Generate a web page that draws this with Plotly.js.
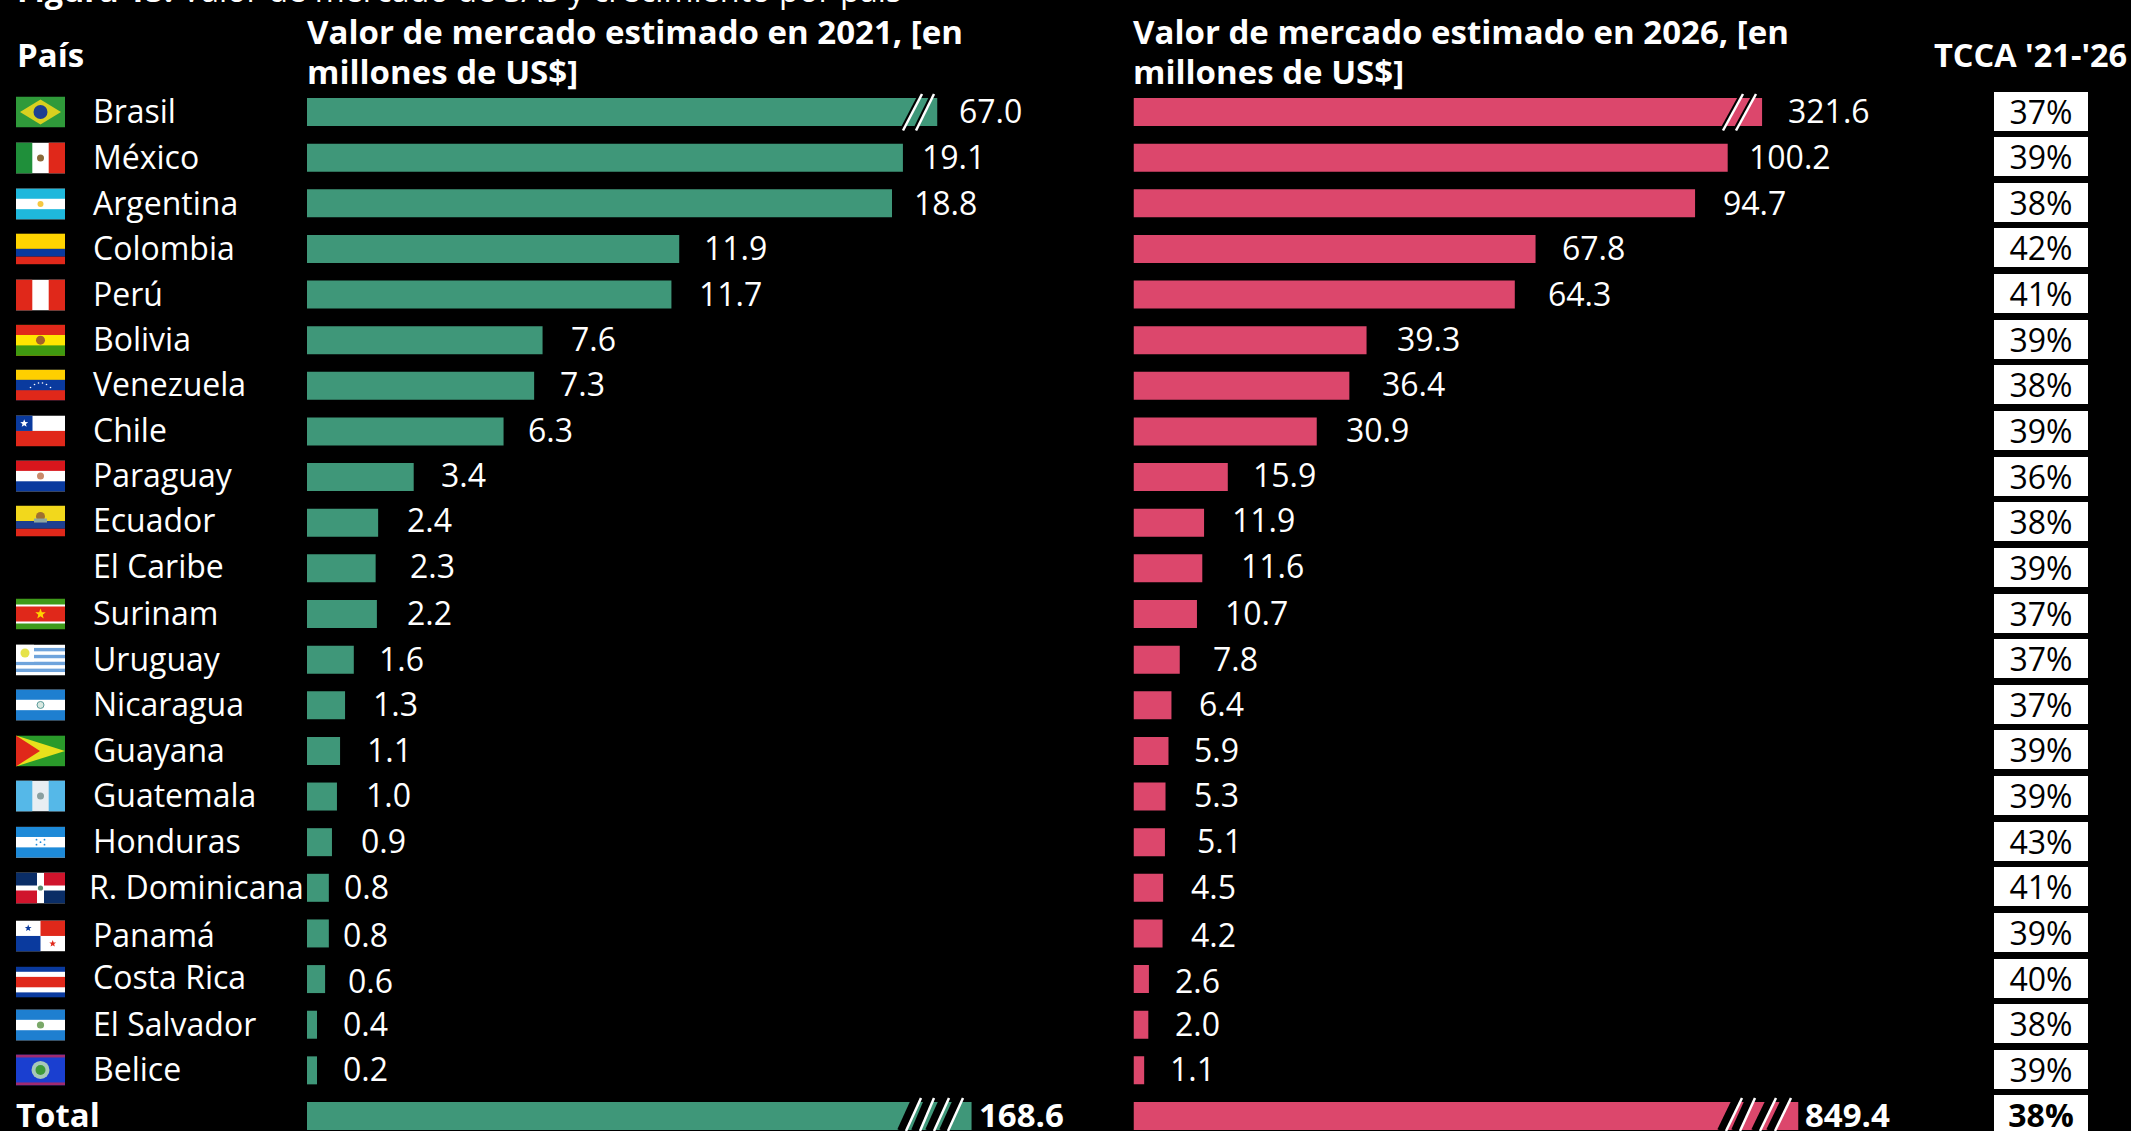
<!DOCTYPE html>
<html><head><meta charset="utf-8">
<script src="https://cdn.plot.ly/plotly-3.0.1.min.js"></script>
<style>html,body{margin:0;padding:0;background:#000;overflow:hidden}</style>
</head><body><div id="chart" style="width:2131px;height:1131px"></div>
<script>
const countries = ["Brasil","México","Argentina","Colombia","Perú","Bolivia","Venezuela","Chile","Paraguay","Ecuador","El Caribe","Surinam","Uruguay","Nicaragua","Guayana","Guatemala","Honduras","R. Dominicana","Panamá","Costa Rica","El Salvador","Belice","Total"];
// printed labels
const labels2021 = ["67.0","19.1","18.8","11.9","11.7","7.6","7.3","6.3","3.4","2.4","2.3","2.2","1.6","1.3","1.1","1.0","0.9","0.8","0.8","0.6","0.4","0.2","168.6"];
const labels2026 = ["321.6","100.2","94.7","67.8","64.3","39.3","36.4","30.9","15.9","11.9","11.6","10.7","7.8","6.4","5.9","5.3","5.1","4.5","4.2","2.6","2.0","1.1","849.4"];
const tcca = ["37%","39%","38%","42%","41%","39%","38%","39%","36%","38%","39%","37%","37%","37%","39%","39%","43%","41%","39%","40%","38%","39%","38%"];
// bar lengths as drawn in the picture (Brasil and Total sit on a broken axis)
const drawn2021 = [20.2,19.1,18.75,11.93,11.68,7.55,7.28,6.3,3.42,2.28,2.2,2.24,1.5,1.22,1.06,0.96,0.8,0.7,0.7,0.58,0.32,0.32,21.3];
const drawn2026 = [106,100.2,94.7,67.8,64.3,39.3,36.4,30.9,15.9,11.9,11.6,10.7,7.8,6.4,5.9,5.4,5.3,5.0,4.9,2.6,2.5,1.8,112.1];

const W = 2131, H = 1131;
const px = x => x / W, py = y => 1 - y / H;
const rowTop = 112, rowStep = 45.636;
const rowY = i => rowTop + rowStep * i;
const FONT = '"Open Sans", sans-serif';
const GREEN = '#3f9779', PINK = '#dc476c';
const labelGap2021 = [22,19,22,25,28,28,26,24,27,29,34,30,25,28,27,29,29,15,14,23,26,26,7];
const labelGap2026 = [26,21,28,26,33,30,33,29,25,28,39,28,33,28,26,28,32,28,28,26,27,26,7];
// hand-placed rows of the reference sit slightly off the even grid (text and flags only), px, + is down
const rowNudge = [0,.4,.7,0,.5,0,-.8,-.5,-1,-1.7,-1.4,0,.4,-.3,0,-.5,0,.2,2.5,3,.3,-.4,0];
const TEXT_UP = 1.2;

// --- flags, small vector drawings
const h3 = (a,b,c) => `<rect width="49" height="31" fill="${b}"/><rect width="49" height="10.3" fill="${a}"/><rect y="20.7" width="49" height="10.3" fill="${c}"/>`;
const v3 = (a,b,c) => `<rect width="49" height="31" fill="${b}"/><rect width="16.3" height="31" fill="${a}"/><rect x="32.7" width="16.3" height="31" fill="${c}"/>`;
const dot = (r,c) => `<circle cx="24.5" cy="15.5" r="${r}" fill="${c}"/>`;
const star = (x,y,r,c) => { let p=[]; for(let k=0;k<10;k++){const a=-Math.PI/2+k*Math.PI/5,q=k%2?r*0.42:r;p.push((x+q*Math.cos(a)).toFixed(2)+','+(y+q*Math.sin(a)).toFixed(2));} return `<polygon points="${p.join(' ')}" fill="${c}"/>`; };
const flags = {
 "Brasil": `<rect width="49" height="31" fill="#2f9a3a"/><polygon points="24.5,3 45,15.5 24.5,28 4,15.5" fill="#d8d020"/><circle cx="24.5" cy="15.5" r="7" fill="#1e3f90"/>`,
 "México": v3('#1f8f3a','#fff','#e0281a')+dot(3.5,'#8a6a3a'),
 "Argentina": h3('#1fb8dc','#fff','#1fb8dc')+dot(3,'#f5c842'),
 "Colombia": `<rect width="49" height="15.5" fill="#ffd400"/><rect y="15.5" width="49" height="7.75" fill="#0a3a9e"/><rect y="23.25" width="49" height="7.75" fill="#e0281a"/>`,
 "Perú": v3('#e0281a','#fff','#e0281a'),
 "Bolivia": h3('#e0281a','#ffe600','#3f9a10')+dot(4.5,'#a3622a'),
 "Venezuela": h3('#ffcf00','#0a3a9e','#e0281a')+[-10,-6,-2,2,6,10].map((d,k)=>`<circle cx="${24.5+d}" cy="${k==0||k==5?18:k==1||k==4?15:13.5}" r="0.8" fill="#fff"/>`).join(''),
 "Chile": `<rect width="49" height="15.5" fill="#fff"/><rect y="15.5" width="49" height="15.5" fill="#e0281a"/><rect width="16.5" height="15.5" fill="#0a3a9e"/>`+star(8.2,8,4.2,'#fff'),
 "Paraguay": h3('#d8161c','#fff','#0a3a9e')+dot(3.5,'#c98a6a'),
 "Ecuador": `<rect width="49" height="15.5" fill="#f2d81c"/><rect y="15.5" width="49" height="7.75" fill="#1e3f90"/><rect y="23.25" width="49" height="7.75" fill="#e0281a"/><circle cx="24.5" cy="11" r="4.5" fill="#a07030"/><rect x="18" y="13" width="13" height="4" fill="#8fa8a0"/>`,
 "Surinam": `<rect width="49" height="31" fill="#3f9a1a"/><rect y="6" width="49" height="19" fill="#fff"/><rect y="8" width="49" height="15" fill="#e0281a"/>`+star(24.5,15.5,5.5,'#ffd400'),
 "Uruguay": `<rect width="49" height="31" fill="#fff"/>`+[3.4,10.3,17.2,24.1].map(y=>`<rect y="${y}" x="0" width="49" height="3.4" fill="#6fa4dc"/>`).join('')+`<rect width="18" height="17" fill="#fff"/><circle cx="9" cy="8.5" r="4.5" fill="#e6e34a"/>`,
 "Nicaragua": h3('#1e7fd0','#fff','#1e7fd0')+`<circle cx="24.5" cy="15.5" r="3.5" fill="#d8e8e0" stroke="#5a9a9a"/>`,
 "Guayana": `<rect width="49" height="31" fill="#2a9a2a"/><polygon points="0,0 49,15.5 0,31" fill="#e8e01c"/><polygon points="0,0 24,15.5 0,31" fill="#e0281a"/>`,
 "Guatemala": v3('#55b8e8','#e8eef2','#55b8e8')+dot(3.5,'#8aa0a0'),
 "Honduras": h3('#1e8ad8','#fff','#1e8ad8')+[[-4,-2.5],[4,-2.5],[0,0],[-4,2.5],[4,2.5]].map(d=>`<circle cx="${24.5+d[0]}" cy="${15.5+d[1]}" r="0.9" fill="#1e8ad8"/>`).join(''),
 "R. Dominicana": `<rect width="49" height="31" fill="#fff"/><rect width="21" height="13" fill="#0a2d66"/><rect x="28" width="21" height="13" fill="#d0142c"/><rect y="18" width="21" height="13" fill="#d0142c"/><rect x="28" y="18" width="21" height="13" fill="#0a2d66"/>`+dot(2.6,'#5a8a70'),
 "Panamá": `<rect width="49" height="31" fill="#fff"/><rect x="24.5" width="24.5" height="15.5" fill="#e0281a"/><rect y="15.5" width="24.5" height="15.5" fill="#0a3a9e"/>`+star(12.2,7.7,3.6,'#0a3a9e')+star(36.7,23.2,3.6,'#e0281a'),
 "Costa Rica": `<rect width="49" height="31" fill="#0a3a9e"/><rect y="5.2" width="49" height="20.6" fill="#fff"/><rect y="10.3" width="49" height="10.4" fill="#e0281a"/>`,
 "El Salvador": h3('#1e7fd0','#fff','#1e7fd0')+dot(3.6,'#7aa868'),
 "Belice": `<rect width="49" height="31" fill="#1a3fd0"/><rect width="49" height="3" fill="#a02a70"/><rect y="28" width="49" height="3" fill="#a02a70"/><circle cx="24.5" cy="15.5" r="9" fill="#a8c8b8"/><circle cx="24.5" cy="15.5" r="5" fill="#3f9a3a"/>`
};
const svgURI = body => 'data:image/svg+xml;charset=utf-8,' + encodeURIComponent(`<svg xmlns="http://www.w3.org/2000/svg" viewBox="0 0 49 31" width="147" height="93" preserveAspectRatio="none">${body}</svg>`);
const images = countries.map((c,i) => flags[c] ? ({
  source: svgURI(flags[c]), xref:'paper', yref:'paper', x:px(16), y:py(rowY(i)+rowNudge[i]), sizex:49/W, sizey:31/H,
  xanchor:'left', yanchor:'middle', sizing:'stretch', layer:'above'
}) : null).filter(Boolean);

// --- text
const txt = (s,x,y,size,bold,extra) => Object.assign({
  text:s, xref:'paper', yref:'paper', x:px(x), y:py(y), xanchor:'left', yanchor:'middle', showarrow:false,
  font:{family:FONT,size:size,color:'#fff',weight:bold?700:400}, borderpad:0, borderwidth:0
}, extra||{});
const annotations = [];
annotations.push(txt('<b>Figura 15:</b> Valor de mercado de SAS y crecimiento por país',17,-11,32.4,false));
annotations.push(txt('País',17,55,33,true));
annotations.push(txt('Valor de mercado estimado en 2021, [en',307,32,33,true));
annotations.push(txt('millones de US$]',307,71,33,true));
annotations.push(txt('Valor de mercado estimado en 2026, [en',1133,32,33,true));
annotations.push(txt('millones de US$]',1133,71,33,true));
annotations.push(txt("TCCA '21-'26",1934,55,32.5,true));
countries.forEach((c,i) => {
  const isTotal = c === 'Total';
  const up = TEXT_UP - rowNudge[i];
  const nameUp = c === 'Costa Rica' ? TEXT_UP + 1 : up;
  annotations.push(txt(c, isTotal?16:(c==='R. Dominicana'?89:93), rowY(i)-nameUp, isTotal?33:32, isTotal));
  annotations.push({text:labels2021[i], xref:'x', yref:'y', x:drawn2021[i], y:c, xanchor:'left', yanchor:'middle', xshift:labelGap2021[i], yshift:up, showarrow:false, borderpad:0, borderwidth:0, font:{family:FONT,size:isTotal?33:32,color:'#fff',weight:isTotal?700:400}});
  annotations.push({text:labels2026[i], xref:'x2', yref:'y', x:drawn2026[i], y:c, xanchor:'left', yanchor:'middle', xshift:labelGap2026[i], yshift:up, showarrow:false, borderpad:0, borderwidth:0, font:{family:FONT,size:isTotal?33:32,color:'#fff',weight:isTotal?700:400}});
  annotations.push({text:tcca[i], xref:'paper', yref:'y', x:px(2041), y:c, xanchor:'center', yanchor:'middle', yshift:1, showarrow:false, width:94, height:39, bgcolor:'#fff', borderpad:0, borderwidth:0, align:'center', valign:'middle', font:{family:FONT,size:32,color:'#000',weight:isTotal?700:400}});
});

// --- axis-break marks
const slash = (x0,y0,x1,y1,color,w) => ({type:'line', xref:'paper', yref:'paper', x0:px(x0), y0:py(y0), x1:px(x1), y1:py(y1), line:{color:color,width:w}, layer:'above'});
const shapes = [];
[[903,922],[916,934],[1723,1743],[1736,1756]].forEach(p => {
  shapes.push(slash(p[0]-2,130.5,p[1]-2,94,'#000',3));
  shapes.push(slash(p[0],130.5,p[1],94,'#fff',2.5));
});
[[906,921],[920,934],[934,949],[948,963],[1726,1742],[1740,1755],[1760,1776],[1775,1791]].forEach((p,k) => {
  shapes.push(slash(p[0]-5,1131,p[1]-5,1098,'#000',8));
  shapes.push(slash(p[0],1131,p[1],1098,'#fff',2.5));
});

const traces = [
  {type:'bar', orientation:'h', name:'2021', x:drawn2021, y:countries, xaxis:'x', yaxis:'y', width:0.6135, marker:{color:GREEN,line:{width:0}}, hoverinfo:'skip', showlegend:false},
  {type:'bar', orientation:'h', name:'2026', x:drawn2026, y:countries, xaxis:'x2', yaxis:'y', width:0.6135, marker:{color:PINK,line:{width:0}}, hoverinfo:'skip', showlegend:false}
];
const x1w = 790, x2w = 790;
const layout = {
  width:W, height:H, margin:{l:0,r:0,t:0,b:0,pad:0}, paper_bgcolor:'#000', plot_bgcolor:'rgba(0,0,0,0)', showlegend:false,
  font:{family:FONT,color:'#fff'},
  xaxis:{domain:[px(307),px(307+x1w)], range:[0,x1w/31.2], visible:false, fixedrange:true},
  xaxis2:{domain:[px(1133.5),px(1133.5+x2w)], range:[0,x2w/5.93], visible:false, fixedrange:true, anchor:'y'},
  yaxis:{domain:[0,1], type:'category', categoryorder:'array', categoryarray:countries, range:[(H-rowTop)/rowStep, -rowTop/rowStep], visible:false, fixedrange:true},
  images, annotations, shapes
};
Plotly.newPlot('chart', traces, layout, {displayModeBar:false, staticPlot:true});
</script></body></html>
